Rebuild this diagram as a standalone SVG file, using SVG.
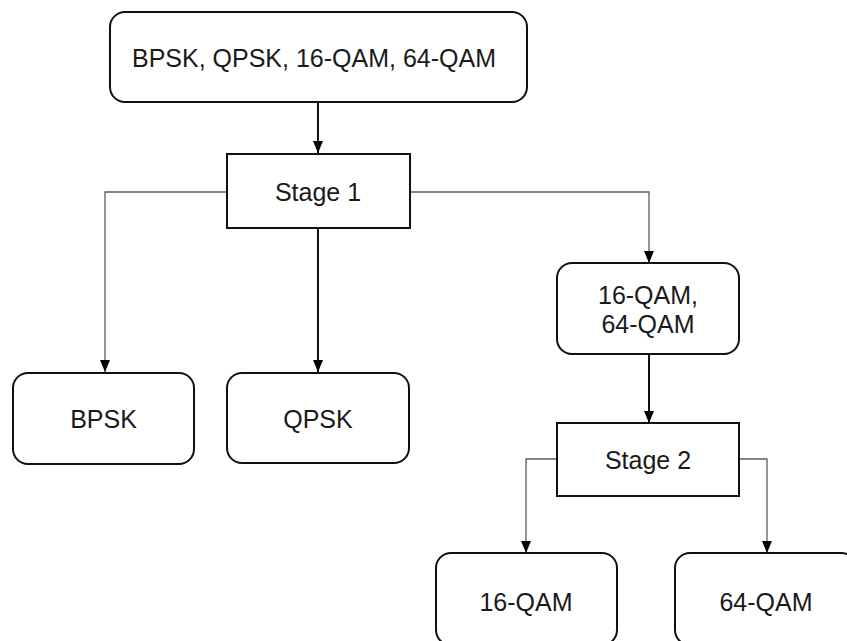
<svg xmlns="http://www.w3.org/2000/svg" width="847" height="641" viewBox="0 0 847 641">
  <style>
    .box { fill: #ffffff; stroke: #111111; stroke-width: 2; }
    .label { font-family: "Liberation Sans", Arial, sans-serif; font-size: 25px; fill: #1a1a1a; text-anchor: middle; dominant-baseline: central; }
    .main { fill: none; stroke: #111111; stroke-width: 2; }
    .branch { fill: none; stroke: #5e5e5e; stroke-width: 1.3; }
  </style>
  <defs>
    <marker id="tip" markerUnits="userSpaceOnUse" viewBox="0 0 12 10" refX="12" refY="5" markerWidth="12" markerHeight="10" orient="auto">
      <path d="M0,0 L12,5 L0,10 Z" fill="#000000"/>
    </marker>
  </defs>

  <!-- connectors -->
  <g id="connectors">
    <path class="main" d="M318,102 V153" marker-end="url(#tip)"/>
    <path class="branch" d="M227,192 H105 V372" marker-end="url(#tip)"/>
    <path class="main" d="M318,228 V372" marker-end="url(#tip)"/>
    <path class="branch" d="M410,192 H649 V263" marker-end="url(#tip)"/>
    <path class="main" d="M649,354 V423" marker-end="url(#tip)"/>
    <path class="branch" d="M557,459 H526 V553" marker-end="url(#tip)"/>
    <path class="branch" d="M739,459 H767 V553" marker-end="url(#tip)"/>
  </g>

  <g id="all-schemes">
    <rect class="box" x="110" y="12" width="417" height="90" rx="15"/>
    <text class="label" x="314" y="58">BPSK, QPSK, 16-QAM, 64-QAM</text>
  </g>

  <g id="stage1">
    <rect class="box" x="227" y="154" width="183" height="74"/>
    <text class="label" x="318" y="192">Stage 1</text>
  </g>

  <g id="bpsk">
    <rect class="box" x="13" y="373" width="181" height="91" rx="15"/>
    <text class="label" x="103.5" y="419">BPSK</text>
  </g>

  <g id="qpsk">
    <rect class="box" x="227" y="373" width="182" height="90" rx="15"/>
    <text class="label" x="318" y="419">QPSK</text>
  </g>

  <g id="qam-group">
    <rect class="box" x="557" y="263" width="182" height="91" rx="15"/>
    <text class="label" x="648" y="295">16-QAM,</text>
    <text class="label" x="648" y="324">64-QAM</text>
  </g>

  <g id="stage2">
    <rect class="box" x="557" y="423" width="182" height="73"/>
    <text class="label" x="648" y="460">Stage 2</text>
  </g>

  <g id="qam16">
    <rect class="box" x="436" y="553" width="181" height="92" rx="15"/>
    <text class="label" x="526" y="602">16-QAM</text>
  </g>

  <g id="qam64">
    <rect class="box" x="675" y="553" width="181" height="92" rx="15"/>
    <text class="label" x="766" y="602">64-QAM</text>
  </g>
</svg>
